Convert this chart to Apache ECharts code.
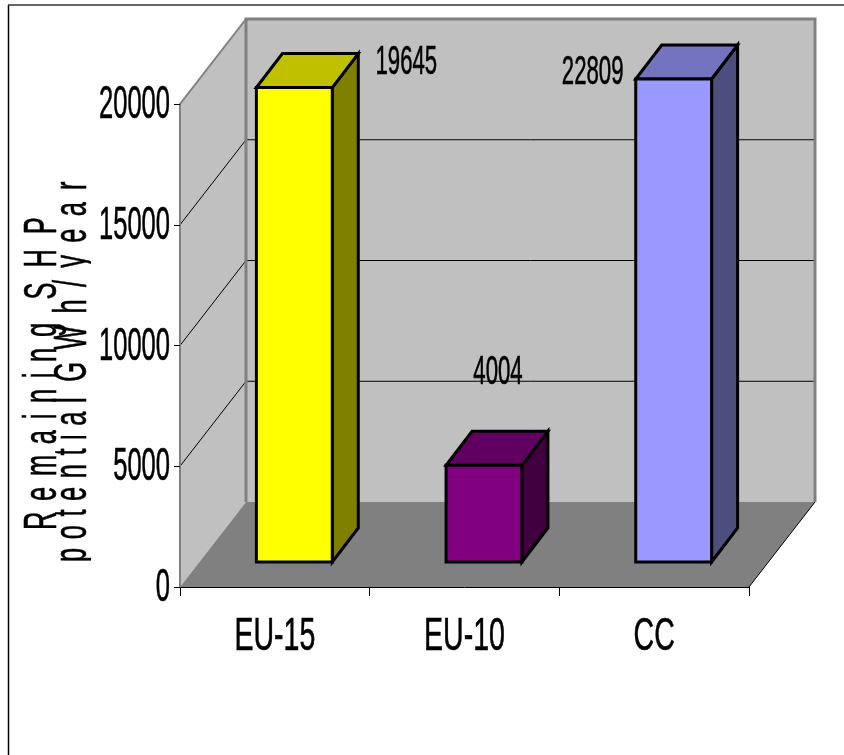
<!DOCTYPE html>
<html>
<head>
<meta charset="utf-8">
<style>html,body{margin:0;padding:0;background:#fff}#c{width:844px;height:755px}</style>
<script src="https://cdn.jsdelivr.net/npm/echarts@6/dist/echarts.min.js"></script>
</head>
<body>
<div id="c"></div>
<script>
var categories = ['EU-15', 'EU-10', 'CC'];
var values = [19645, 4004, 22809];
var yTicks = [0, 5000, 10000, 15000, 20000];
var yMax = 20000;
var titleLine1 = ['Remaining', 'SHP'];
var titleLine2 = ['potential', 'GWh/year'];

var faceColors = ['#FFFF00', '#800080', '#9999FF'];
var topColors = ['#C0C000', '#600060', '#7373BF'];
var sideColors = ['#808000', '#400040', '#4D4D80'];
var labelOffsets = [[112, -25], [14, -92], [-81, -6]];

var FONT = '"Liberation Sans", Arial, sans-serif';
var DX = 66, DY = -85;          // wall depth
var BX = 19.5, BY = -25;        // bar inset from the front floor edge
var BDX = 26, BDY = -34;        // bar depth
var BAR = 0.4;

function spaced(s, sep) { return s.split('').join(sep); }

function narrow(x, y, text, size, align, sx) {
  return {type: 'text', x: x, y: y, scaleX: sx || 0.555, silent: true,
    style: {text: text, fontFamily: FONT, fontSize: size, fill: '#000', stroke: '#000', lineWidth: 0.6, align: align, verticalAlign: 'middle'}};
}

function renderWalls(params, api) {
  var cs = params.coordSys;
  var L = cs.x, R = cs.x + cs.width;
  var y0 = api.coord([0, 0])[1], yT = api.coord([0, yMax])[1];
  var kids = [];
  var wallStyle = {fill: '#C0C0C0', stroke: 'none'};
  kids.push({type: 'polygon', shape: {points: [[L + DX, yT + DY], [R + DX, yT + DY], [R + DX, y0 + DY], [L + DX, y0 + DY]]}, style: wallStyle});
  kids.push({type: 'polygon', shape: {points: [[L, y0], [L, yT], [L + DX, yT + DY], [L + DX, y0 + DY]]}, style: wallStyle});
  kids.push({type: 'polygon', shape: {points: [[L, y0], [R, y0], [R + DX, y0 + DY], [L + DX, y0 + DY]]}, style: {fill: '#808080', stroke: 'none'}});
  yTicks.forEach(function (v) {
    if (v === 0 || v === yMax) return;
    var y = api.coord([0, v])[1];
    kids.push({type: 'polyline', shape: {points: [[L, y], [L + DX, y + DY], [R + DX, y + DY]]}, style: {fill: 'none', stroke: '#000', lineWidth: 1}});
  });
  kids.push({type: 'polyline', shape: {points: [[L + DX, y0 + DY], [L + DX, yT + DY], [R + DX, yT + DY], [R + DX, y0 + DY]]}, style: {stroke: '#808080', fill: 'none', lineWidth: 3}});
  kids.push({type: 'polyline', shape: {points: [[L, y0], [L, yT], [L + DX, yT + DY]]}, style: {stroke: '#808080', fill: 'none', lineWidth: 2}});
  kids.push({type: 'line', shape: {x1: R, y1: y0, x2: R + DX, y2: y0 + DY}, style: {stroke: '#000', lineWidth: 1}});
  return {type: 'group', children: kids};
}

function renderBar(params, api) {
  var i = api.value(0), v = Math.min(api.value(1), yMax);
  var c = api.coord([i, v]);
  var b = api.coord([i, 0]);
  var w = api.size([1, 0])[0] * BAR;
  var l = c[0] - w / 2 + BX, r = c[0] + w / 2 + BX;
  var t = c[1] + BY, m = b[1] + BY;
  var st = function (f) { return {fill: f, stroke: '#000', lineWidth: 3, lineJoin: 'miter'}; };
  var off = labelOffsets[i];
  return {type: 'group', children: [
    {type: 'polygon', shape: {points: [[r, m], [r, t], [r + BDX, t + BDY], [r + BDX, m + BDY]]}, style: st(sideColors[i])},
    {type: 'polygon', shape: {points: [[l, t], [r, t], [r + BDX, t + BDY], [l + BDX, t + BDY]]}, style: st(topColors[i])},
    {type: 'rect', shape: {x: l, y: t, width: r - l, height: m - t}, style: st(faceColors[i])},
    narrow((l + r) / 2 + off[0], t + off[1], String(values[i]), 40, 'center')
  ]};
}

function renderYLabel(params, api) {
  var v = api.value(0);
  return narrow(170, api.coord([0, v])[1] + 1.5, String(v), 46, 'right');
}
function renderXLabel(params, api) {
  var i = api.value(0);
  return narrow(api.coord([i, 0])[0], 637, categories[i], 46, 'center', 0.62);
}
function renderTitle(params, api) {
  var t1 = spaced(titleLine1[0], '\u2005\u2006') + '   \u200A' + spaced(titleLine1[1], '\u2002\u200A');
  var t2 = spaced(titleLine2[0], '\u2005\u200A') + '\u2005\u200A ' + spaced(titleLine2[1], ' \u2009');
  var a = narrow(43, 530, t1, 46, 'left');
  a.rotation = Math.PI / 2;
  var b = narrow(73, 562, t2, 46, 'left');
  b.rotation = Math.PI / 2;
  return {type: 'group', children: [
    a, b,
    {type: 'rect', shape: {x: 91, y: 170, width: 8, height: 400}, style: {fill: '#fff', stroke: 'none'}}
  ]};
}

var common = {type: 'custom', silent: true, animation: false, clip: false, coordinateSystem: 'cartesian2d'};
function ser(o) { return Object.assign({}, common, o); }

var chart = echarts.init(document.getElementById('c'), null, {renderer: 'canvas'});
chart.setOption({
  animation: false,
  backgroundColor: '#fff',
  tooltip: {show: false},
  legend: {show: false},
  grid: {left: 180, top: 104, width: 569, height: 483, containLabel: false},
  xAxis: {type: 'category', data: categories, z: 5,
    axisLine: {show: true, onZero: false, lineStyle: {color: '#000', width: 1}},
    axisTick: {show: true, length: 9, alignWithLabel: false, lineStyle: {color: '#000', width: 1}},
    axisLabel: {show: false}, splitLine: {show: false}},
  yAxis: {type: 'value', min: 0, max: yMax, interval: 5000, z: 5,
    axisLine: {show: false},
    axisTick: {show: true, length: 6, lineStyle: {color: '#000', width: 1}},
    axisLabel: {show: false}, splitLine: {show: false}},
  graphic: [
    {type: 'line', shape: {x1: 8.5, y1: 5, x2: 8.5, y2: 755}, style: {stroke: '#000', lineWidth: 1.5}},
    {type: 'line', shape: {x1: 8, y1: 5, x2: 844, y2: 5}, style: {stroke: '#333', lineWidth: 1.5}}
  ],
  series: [
    ser({z: 1, data: [[0, 0]], renderItem: renderWalls}),
    ser({z: 2, data: values.map(function (v, i) { return [i, v]; }), renderItem: renderBar, encode: {x: 0, y: 1}}),
    ser({z: 3, data: [[0, 0]], renderItem: renderTitle}),
    ser({z: 4, data: yTicks.map(function (v) { return [v]; }), renderItem: renderYLabel, encode: {y: 0}}),
    ser({z: 4, data: categories.map(function (c, i) { return [i]; }), renderItem: renderXLabel, encode: {x: 0}})
  ]
});
</script>
</body>
</html>
